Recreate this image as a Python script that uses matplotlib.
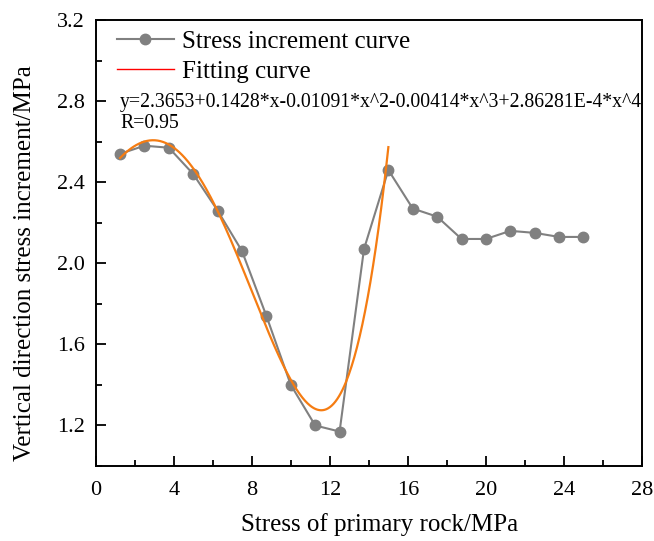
import numpy as np
import matplotlib.pyplot as plt
from matplotlib.lines import Line2D
from matplotlib.ticker import MultipleLocator, FormatStrFormatter

# primary rock stress (MPa) and vertical stress increment (MPa)
stress_x = [1.25, 2.5, 3.75, 5.0, 6.25, 7.5, 8.75, 10.0, 11.25, 12.5,
            13.75, 15.0, 16.25, 17.5, 18.75, 20.0, 21.25, 22.5, 23.75, 25.0]
increment_y = [2.54, 2.58, 2.57, 2.44, 2.26, 2.06, 1.74, 1.40, 1.20, 1.17,
               2.07, 2.46, 2.27, 2.23, 2.12, 2.12, 2.16, 2.15, 2.13, 2.13]

# polynomial fit coefficients as printed on the chart (c0 .. c4)
fit_coef = [2.3653, 0.1428, -0.01091, -0.00414, 2.86281e-4]
fit_range = (1.25, 15.0)

plt.rcParams["font.family"] = ["Liberation Serif", "DejaVu Serif"]

fig = plt.figure(figsize=(6.54, 5.41), dpi=100)
ax = fig.add_axes([0.1463, 0.1386, 0.8354, 0.8244])

ax.plot(stress_x, increment_y, color="#808080", lw=1.5, marker="o", ms=7.5,
        mfc="#808080", mec="#808080", zorder=2)

xf = np.linspace(fit_range[0], fit_range[1], 300)
yf = np.polynomial.polynomial.polyval(xf, fit_coef)
ax.plot(xf, yf, color="#F57C12", lw=1.6, zorder=3)

ax.set_xlim(0, 28)
ax.set_ylim(1.0, 3.2)
ax.xaxis.set_major_locator(MultipleLocator(4))
ax.xaxis.set_minor_locator(MultipleLocator(2))
ax.yaxis.set_minor_locator(MultipleLocator(0.2))
ax.set_yticks([1.2, 1.6, 2.0, 2.4, 2.8, 3.2])
ax.yaxis.set_major_formatter(FormatStrFormatter("%.1f"))
ax.tick_params(which="both", direction="in", width=1.3, labelsize=16,
               top=False, right=False)
ax.tick_params(which="major", length=7, pad=8)
ax.tick_params(axis="x", which="major", pad=11)
ax.tick_params(which="minor", length=4)
for s in ax.spines.values():
    s.set_linewidth(1.4)

ax.set_xlabel("Stress of primary rock/MPa", fontsize=18)
ax.set_ylabel("Vertical direction stress increment/MPa", fontsize=18)
ax.xaxis.set_label_coords(0.519, -0.105)
ax.yaxis.set_label_coords(-0.11, 0.455)

handles = [
    Line2D([], [], color="#808080", lw=1.5, marker="o", ms=7.5),
    Line2D([], [], color="#FF0000", lw=1.0),
]
ax.legend(handles, ["Stress increment curve", "Fitting curve"], loc="upper left",
          frameon=False, fontsize=18, handlelength=2.3, borderaxespad=0.0,
          handletextpad=0.3, labelspacing=0.3, bbox_to_anchor=(0.02, 1.0))

ax.text(0.0445, 0.816,
        "y=2.3653+0.1428*x-0.01091*x^2-0.00414*x^3+2.86281E-4*x^4",
        transform=ax.transAxes, fontsize=14.2, va="center")
ax.text(0.0445, 0.769, "R=0.95", transform=ax.transAxes, fontsize=14.2, va="center")

fig.savefig("out.png", dpi=100)
